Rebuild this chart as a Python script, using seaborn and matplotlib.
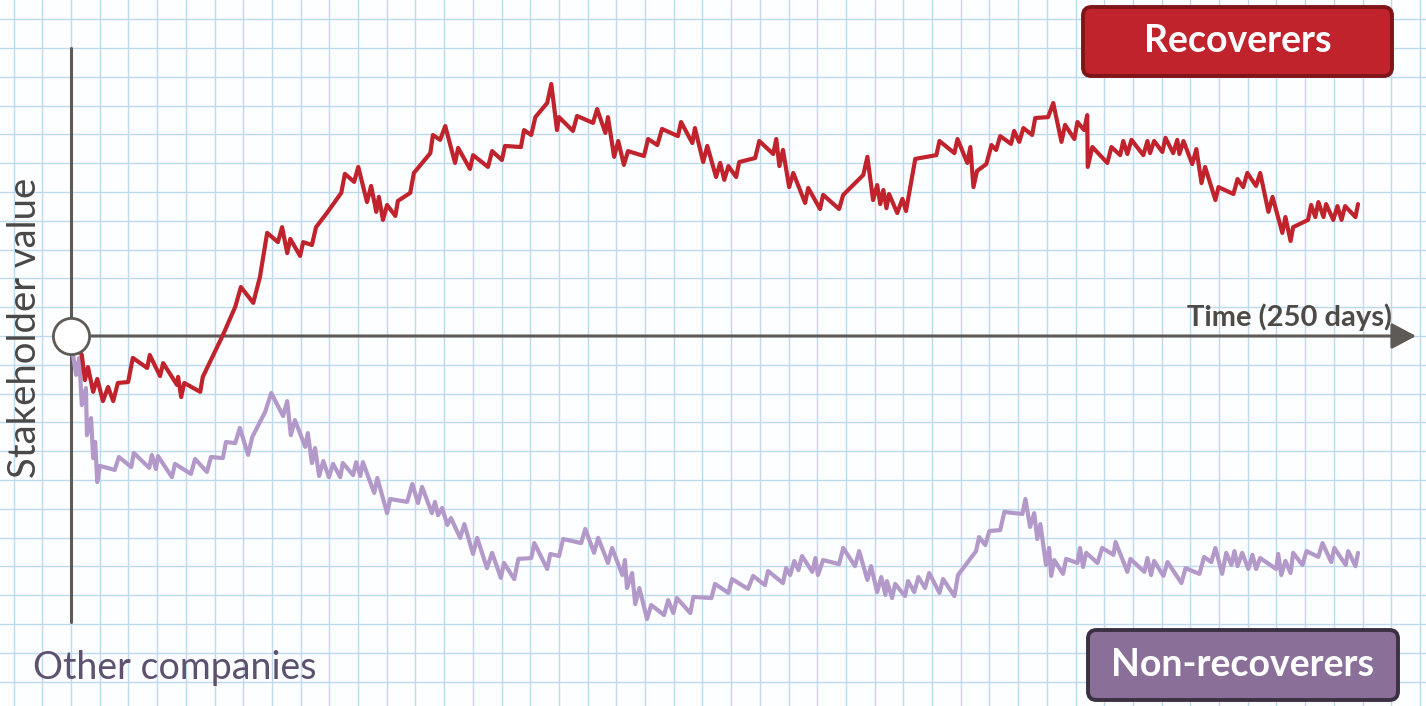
import numpy as np
import pandas as pd
import matplotlib.pyplot as plt
import seaborn as sns
from matplotlib.patches import FancyBboxPatch

# ---------------- Data ----------------
rec_days = [0, 2.1, 2.7, 3.3, 4.3, 5.1, 6.2, 7.2, 8.2, 9.1, 11.1, 12.0, 14.8, 15.3, 17.3, 17.9,
            20.6, 20.8, 21.4, 22.0, 25.1, 25.6, 29.5, 31.9, 33.0, 35.4, 36.7, 38.1, 40.2, 41.0,
            42.0, 42.6, 44.5, 45.1, 46.8, 47.6, 49.7, 52.5, 53.2, 55.0, 55.8, 57.5, 58.3, 59.3,
            59.8, 60.6, 61.4, 63.0, 63.5, 65.9, 66.6, 69.8, 70.3, 71.7, 72.7, 74.6, 75.2, 77.5,
            78.1, 81.0, 81.8, 83.7, 84.3, 87.4, 88.0, 89.4, 90.2, 92.5, 93.3, 94.4, 94.8, 97.5,
            98.3, 101.4, 102.2, 103.8, 104.3, 105.5, 106.3, 107.4, 108.2, 111.3, 112.1, 113.9,
            114.8, 117.9, 118.5, 120.7, 121.2, 122.8, 123.6, 125.3, 126.1, 126.9, 127.7, 129.2,
            129.8, 132.9, 133.7, 136.4, 137.0, 137.6, 138.3, 139.5, 140.3, 142.6, 143.2, 145.5,
            146.1, 149.2, 150.0, 153.9, 154.7, 155.8, 156.6, 157.2, 157.8, 158.4, 158.9, 160.5,
            161.5, 162.2, 164.0, 168.1, 168.7, 171.6, 172.2, 174.1, 174.7, 175.3, 176.0, 177.8,
            178.8, 179.7, 180.5, 182.6, 183.2, 184.2, 185.0, 186.7, 187.3, 189.8, 190.8, 192.4,
            193.1, 194.9, 195.5, 196.8, 197.4, 197.5, 198.4, 201.3, 202.1, 203.8, 204.4, 205.2,
            206.0, 208.3, 209.1, 209.6, 210.4, 212.0, 212.6, 214.1, 214.9, 215.3, 216.1, 217.8,
            218.6, 219.6, 220.3, 222.3, 222.9, 225.8, 226.6, 227.7, 228.5, 230.2, 231.0, 232.6,
            233.4, 235.3, 235.9, 236.9, 237.4, 240.3, 240.9, 241.7, 242.3, 243.3, 243.8, 245.2,
            246.0, 246.8, 247.5, 249.5, 250.0]
rec_value = [0, -6.6, -15.3, -10.8, -19.4, -14.9, -22.6, -17.7, -22.6, -16.3, -16.0, -7.6, -11.1,
             -6.6, -13.9, -9.4, -17.0, -14.2, -21.2, -16.3, -19.4, -14.2, 0.3, 10.1, 17.0, 11.5,
             20.5, 35.8, 32.6, 37.8, 28.8, 33.7, 27.8, 32.6, 31.6, 37.8, 42.7, 49.7, 56.3, 53.5,
             58.7, 46.5, 52.1, 43.1, 48.3, 40.3, 45.5, 41.7, 46.9, 49.7, 56.6, 63.5, 69.8, 68.1,
             72.9, 60.1, 65.3, 58.0, 62.8, 58.7, 64.2, 61.1, 66.0, 65.6, 71.5, 69.8, 76.0, 80.9,
             87.5, 71.5, 76.0, 71.2, 76.4, 74.0, 78.8, 70.5, 76.0, 62.2, 67.7, 59.4, 64.2, 62.5,
             68.4, 66.3, 71.9, 69.4, 74.3, 67.0, 72.2, 60.4, 66.0, 55.2, 60.1, 54.2, 59.0, 55.2,
             60.4, 61.8, 67.7, 63.2, 68.4, 59.0, 64.6, 51.7, 56.6, 46.2, 51.4, 44.1, 49.0, 44.1,
             49.0, 55.9, 62.2, 47.2, 52.4, 45.8, 50.7, 44.4, 49.3, 42.7, 47.6, 43.4, 61.5, 62.8,
             67.7, 63.5, 68.4, 60.1, 65.6, 51.7, 57.3, 59.7, 66.3, 64.6, 69.4, 66.7, 71.2, 67.4,
             72.2, 69.8, 75.7, 76.0, 80.9, 67.4, 73.3, 68.4, 74.3, 71.5, 76.7, 58.7, 65.6, 60.1,
             65.6, 62.8, 67.7, 63.2, 68.1, 62.8, 67.7, 63.5, 67.7, 63.9, 68.8, 63.5, 68.1, 63.2,
             67.7, 59.7, 64.9, 53.1, 58.7, 47.2, 51.7, 49.3, 54.5, 51.7, 56.6, 52.1, 56.6, 43.1,
             48.3, 35.8, 41.3, 33.0, 37.8, 40.3, 45.5, 41.3, 46.5, 41.3, 45.8, 40.3, 45.1, 40.3,
             45.1, 41.3, 45.8]

non_days = [0, 0.4, 1.0, 1.6, 2.1, 2.9, 3.1, 3.9, 4.3, 4.7, 5.1, 5.6, 8.5, 9.3, 11.7, 12.2, 15.2,
            15.7, 16.5, 16.9, 19.6, 20.2, 23.3, 24.1, 26.4, 27.2, 29.5, 30.1, 31.9, 32.8, 34.4,
            35.2, 37.7, 38.9, 41.2, 42.0, 42.7, 43.5, 45.5, 46.0, 46.8, 47.4, 48.2, 49.0, 50.1,
            50.9, 52.3, 52.8, 54.8, 55.4, 56.2, 56.7, 58.9, 59.5, 61.4, 62.0, 65.3, 66.3, 67.4,
            68.2, 70.1, 70.7, 71.3, 72.1, 73.1, 73.8, 75.6, 76.4, 78.1, 78.9, 80.8, 81.8, 83.5,
            84.1, 86.1, 86.9, 89.4, 90.0, 92.5, 93.1, 94.8, 95.6, 99.1, 99.9, 101.6, 102.4, 104.3,
            105.1, 107.1, 107.6, 108.0, 109.0, 109.6, 110.4, 111.9, 112.7, 115.2, 116.0, 117.0,
            117.7, 120.3, 120.9, 124.4, 125.1, 127.7, 128.4, 131.5, 132.5, 134.8, 135.4, 138.3,
            138.9, 139.7, 140.5, 141.3, 142.0, 144.0, 144.6, 145.1, 146.1, 149.2, 150.0, 152.3,
            153.1, 154.7, 155.4, 156.6, 157.4, 158.2, 158.5, 159.5, 160.1, 162.0, 162.6, 163.8,
            164.6, 165.9, 166.7, 168.7, 169.4, 171.6, 172.3, 175.8, 176.4, 177.6, 178.4, 180.5,
            181.3, 184.8, 185.4, 186.3, 187.1, 187.7, 188.3, 189.4, 190.0, 190.4, 191.0, 192.7,
            193.3, 195.5, 196.0, 196.6, 197.2, 199.4, 200.3, 202.5, 202.9, 205.2, 205.8, 208.5,
            209.1, 209.8, 210.4, 212.2, 213.0, 215.7, 216.5, 219.2, 220.1, 221.5, 222.3, 223.6,
            224.4, 225.4, 226.0, 226.6, 227.5, 228.7, 229.5, 230.2, 231.0, 234.1, 234.5, 235.1,
            235.9, 236.9, 237.4, 239.2, 240.0, 242.3, 243.1, 244.8, 245.4, 247.6, 248.1, 249.5,
            250.0]
non_value = [0, -6.6, -13.5, -7.6, -24.0, -18.1, -34.4, -28.5, -42.4, -36.8, -50.7, -45.1, -46.5,
             -42.0, -45.5, -40.6, -45.8, -41.3, -46.2, -41.7, -49.0, -44.4, -47.9, -42.7, -47.2,
             -42.0, -42.4, -36.8, -37.2, -31.9, -41.3, -35.1, -26.4, -19.8, -27.8, -22.6, -34.4,
             -29.2, -38.5, -33.7, -44.1, -38.9, -48.6, -43.4, -49.0, -44.4, -49.0, -44.1, -48.3,
             -43.8, -48.6, -43.8, -54.5, -49.3, -61.5, -56.6, -57.6, -51.4, -58.0, -52.4, -61.5,
             -57.6, -62.2, -59.7, -65.6, -63.2, -70.1, -65.3, -75.7, -70.1, -80.6, -75.3, -84.0,
             -78.8, -84.4, -77.4, -77.1, -71.9, -80.9, -75.7, -76.4, -70.5, -71.9, -67.0, -75.3,
             -70.1, -78.8, -73.6, -83.0, -77.8, -87.5, -82.3, -93.1, -87.5, -98.3, -93.4, -96.9,
             -91.7, -96.2, -91.0, -96.2, -90.6, -91.0, -86.1, -89.2, -84.4, -87.8, -83.3, -86.5,
             -81.6, -85.8, -80.6, -83.0, -78.1, -81.3, -76.4, -81.9, -77.1, -83.0, -77.8, -79.2,
             -73.6, -79.9, -74.7, -84.7, -79.9, -88.9, -83.7, -89.9, -85.1, -91.0, -86.1, -90.3,
             -85.1, -88.9, -83.7, -87.5, -82.3, -89.2, -84.4, -90.3, -83.0, -74.7, -69.8, -72.6,
             -67.7, -67.4, -61.1, -61.8, -56.6, -66.3, -61.5, -70.5, -65.3, -79.5, -73.6, -83.3,
             -77.8, -82.6, -77.4, -78.8, -73.6, -80.2, -75.3, -78.8, -73.6, -76.0, -71.5, -81.9,
             -77.4, -81.9, -77.1, -83.0, -78.1, -83.3, -78.5, -85.8, -80.6, -82.6, -76.7, -78.5,
             -73.6, -82.6, -75.3, -79.5, -74.7, -79.9, -75.3, -80.9, -76.0, -80.9, -77.1, -80.9,
             -75.7, -83.0, -78.1, -82.3, -75.3, -79.5, -74.7, -76.7, -71.9, -78.5, -73.6, -79.5,
             -74.7, -79.9, -75.3]

group_names = ["Recoverers", "Non-recoverers"]
group_colors = {"Recoverers": "#c1232c", "Non-recoverers": "#b399c9"}

df = pd.concat([
    pd.DataFrame({"day": rec_days, "value": rec_value, "group": "Recoverers"}),
    pd.DataFrame({"day": non_days, "value": non_value, "group": "Non-recoverers"}),
], ignore_index=True)

# ---------------- Style ----------------
sns.set_theme(style="white")
plt.rcParams["font.family"] = ["Lato", "DejaVu Sans"]

W, H = 1426, 706
fig = plt.figure(figsize=(W / 100, H / 100), dpi=100)
fig.patch.set_facecolor("#fdfeff")
ax = fig.add_axes([0, 0, 1, 1])
ax.set_facecolor("#fdfeff")

# scale: origin sits at pixel (71, 336), 250 days span 1287 px, 10 value units = 28.8 px
px_day = 1287 / 250
px_val = 2.88

# graph-paper grid (ticks first, limits after, so the ticks don't widen the view)
cell_days = 28.7 / px_day
ax.set_xticks(np.arange(-3, 50) * cell_days)
ax.set_yticks(np.arange(-13, 13) * 10)
ax.tick_params(length=0, labelbottom=False, labelleft=False)
ax.grid(True, color="#bcd9ee", lw=1.0)
for s in ax.spines.values():
    s.set_visible(False)

# ---------------- Lines ----------------
sns.lineplot(data=df, x="day", y="value", hue="group", hue_order=group_names[::-1],
             palette=group_colors, sort=False, estimator=None, lw=3.0,
             legend=False, ax=ax, zorder=3)
ax.set_xlabel("")
ax.set_ylabel("")

# hand-drawn style axes
axis_col = "#5e5a55"
ax.axvline(0, ymin=84 / H, ymax=(H - 48) / H, color=axis_col, lw=2.2, zorder=2)
ax.annotate("", xy=((1416 - 71) / px_day, 0), xytext=(0, 0),
            arrowprops=dict(arrowstyle="-|>,head_length=0.75,head_width=0.4",
                            mutation_scale=20, color=axis_col, lw=2.2,
                            shrinkA=0, shrinkB=0), zorder=2)
ax.scatter([0], [0], s=680, facecolor="white", edgecolor=axis_col, linewidth=2, zorder=5)

ax.set_xlim(-71 / px_day, (W - 71) / px_day)
ax.set_ylim(-(H - 336) / px_val, 336 / px_val)

# ---------------- Text ----------------
fig.text(25 / W, 1 - 328 / H, "Stakeholder value", rotation=90, ha="center", va="center",
         fontsize=27.5, color="#4a4846")
fig.text(1392 / W, 1 - 317 / H, "Time (250 days)", ha="right", va="center",
         fontsize=21, fontweight="bold", color="#4e4b47")
fig.text(33 / W, 1 - 668 / H, "Other companies", ha="left", va="center",
         fontsize=27, color="#5e5170")

boxes = [("Recoverers", 1083, 7, 309, 69, "#c1232c", "#7e1518"),
         ("Non-recoverers", 1088, 630, 310, 70, "#8a6f99", "#3b3142")]
for label, x0, y0, bw, bh, fc, ec in boxes:
    patch = FancyBboxPatch((x0 / W, 1 - (y0 + bh) / H), bw / W, bh / H,
                           boxstyle="round,pad=0,rounding_size=0.006",
                           transform=fig.transFigure, fc=fc, ec=ec, lw=2.8,
                           mutation_aspect=W / H)
    fig.add_artist(patch)
    fig.text((x0 + bw / 2) / W, 1 - (y0 + bh / 2) / H, label, ha="center", va="center",
             fontsize=27, fontweight="bold", color="white")

fig.savefig("out.png", dpi=100, facecolor=fig.get_facecolor())
